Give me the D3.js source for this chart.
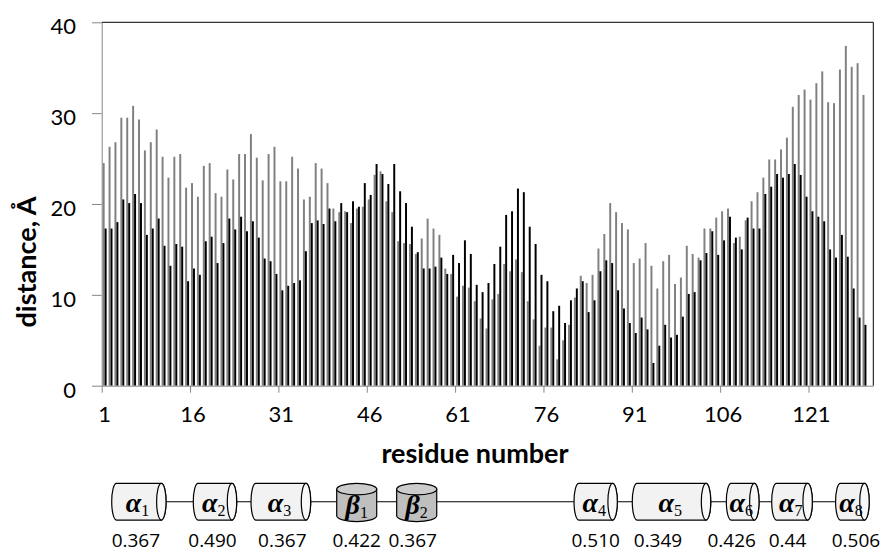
<!DOCTYPE html>
<html>
<head>
<meta charset="utf-8">
<script src="https://cdn.jsdelivr.net/npm/d3@7"></script>
<style>
  html, body { margin: 0; padding: 0; background: #fff; }
  svg { display: block; }
</style>
</head>
<body>
<svg id="chart" width="889" height="552"></svg>
<script>
// Residue slots along the sequence (the axis keeps one empty slot after residue 130)
const residues = d3.range(1, 132);
const tickResidues = [1, 16, 31, 46, 61, 76, 91, 106, 121];
const yTicks = [0, 10, 20, 30, 40];

// Distance per residue, Å (grey series)
const distGray = [
  24.5, 26.3, 26.8, 29.5, 29.5, 30.8, 29.3, 25.9, 26.8, 28.2,
  25.2, 22.9, 25.2, 25.5, 21.8, 22.3, 20.8, 24.2, 24.5, 21.2,
  20.8, 23.8, 22.7, 25.5, 25.5, 27.7, 25.1, 22.6, 25.5, 26.3,
  22.5, 22.5, 25.2, 23.9, 20.5, 20.8, 24.5, 23.9, 22.3, 19.5,
  19.1, 19.2, 17.9, 19.5, 19.7, 20.5, 23.2, 23.6, 20.3, 19.1,
  15.9, 15.7, 15.6, 14.5, 16.2, 18.4, 17.3, 16.6, 12.9, 12.3,
  9.8, 11.0, 10.8, 9.3, 7.4, 6.3, 9.5, 10.1, 13.4, 12.6,
  13.9, 12.5, 9.3, 7.3, 4.4, 6.4, 6.4, 2.9, 5.0, 6.7,
  9.7, 12.1, 11.3, 12.2, 15.1, 16.7, 20.1, 19.1, 17.9, 17.2,
  13.5, 14.0, 15.7, 13.2, 10.7, 13.7, 14.4, 11.2, 11.9, 15.4,
  14.5, 14.1, 17.3, 17.3, 18.5, 19.2, 19.5, 15.7, 16.4, 18.2,
  20.3, 21.3, 22.9, 24.9, 24.9, 26.0, 27.3, 30.7, 32.0, 32.6,
  31.5, 33.3, 34.6, 31.2, 31.1, 34.8, 37.4, 35.1, 35.5, 32.0
];

// Distance per residue, Å (black series)
const distBlack = [
  17.3, 17.3, 18.0, 20.5, 20.1, 21.1, 20.1, 16.6, 17.3, 18.4,
  15.4, 13.2, 15.6, 15.3, 11.5, 12.9, 12.2, 15.9, 16.4, 13.5,
  15.7, 18.4, 17.2, 18.6, 17.0, 18.1, 16.3, 14.0, 13.7, 12.3,
  10.5, 11.0, 11.3, 11.6, 14.8, 17.9, 18.2, 17.8, 19.5, 18.1,
  20.1, 19.1, 20.3, 19.7, 22.3, 21.0, 24.4, 23.3, 22.2, 24.4,
  21.4, 20.1, 17.5, 14.7, 12.9, 12.9, 13.1, 14.1, 12.3, 14.4,
  13.5, 16.0, 14.5, 11.1, 10.3, 11.3, 13.4, 15.3, 18.8, 19.2,
  21.7, 21.3, 17.5, 15.6, 12.2, 11.5, 8.2, 8.8, 6.9, 9.4,
  10.7, 11.5, 8.1, 9.4, 12.6, 13.8, 13.5, 10.5, 8.5, 6.9,
  5.8, 7.5, 6.2, 2.5, 4.4, 6.7, 5.3, 5.6, 7.6, 10.1,
  10.3, 13.8, 14.6, 17.0, 14.4, 16.0, 18.6, 16.3, 15.0, 18.5,
  17.3, 17.3, 21.1, 21.9, 23.3, 22.9, 23.3, 24.4, 23.2, 20.8,
  19.2, 18.6, 18.1, 15.0, 14.1, 16.6, 14.2, 10.7, 7.5, 6.7
];

// Secondary structure elements: kind, index, span in residue units, value
const ssKind  = ["α", "α", "α", "β", "β", "α", "α", "α", "α", "α"];
const ssIndex = [1, 2, 3, 1, 2, 4, 5, 6, 7, 8];
const ssStart = [2.7, 16.55, 26.35, 40.9, 51.08, 81.19, 91.08, 107.05, 114.75, 125.6];
const ssEnd   = [11.92, 23.92, 36.48, 47.69, 57.88, 88.54, 104.4, 112.6, 121.65, 131.3];
const ssValue = ["0.367", "0.490", "0.367", "0.422", "0.367", "0.510", "0.349", "0.426", "0.44", "0.506"];

// ---- layout ----
const plot = { left: 101.7, right: 873.3, top: 22.3, bottom: 385.7 };
const axisGrey = "#868686";
const valueLabelShift = [-3, -2.5, 1.5, 0, -4, 0, -13.5, -11, -4.5, 3.5];

const svg = d3.select("#chart");
svg.append("rect").attr("width", 889).attr("height", 552).attr("fill", "#fff");

const x = d3.scaleBand().domain(residues).range([plot.left, plot.right]).paddingInner(0).paddingOuter(0);
const sub = d3.scaleBand().domain(["gray", "black"]).range([0, x.bandwidth()]).paddingInner(0).paddingOuter(0.5);
const pos = d3.scaleLinear().domain([1, residues.length + 1]).range([plot.left, plot.right]);
const y = d3.scaleLinear().domain([0, 40]).range([plot.bottom, plot.top]);

// bars
const series = [
  { key: "gray", values: distGray, color: "#808080" },
  { key: "black", values: distBlack, color: "#000000" }
];
series.forEach(s => {
  svg.append("g")
    .selectAll("rect")
    .data(s.values.map((v, i) => ({ r: residues[i], v })))
    .join("rect")
    .attr("x", d => x(d.r) + sub(s.key))
    .attr("width", sub.bandwidth())
    .attr("y", d => y(d.v))
    .attr("height", d => y(0) - y(d.v))
    .attr("fill", s.color);
});

// frame: top and right edges
svg.append("path")
  .attr("d", `M${plot.left},${plot.top}H${plot.right}V${plot.bottom}`)
  .attr("fill", "none").attr("stroke", "#000").attr("stroke-width", 1);

// y axis
const yAxis = svg.append("g")
  .attr("transform", `translate(${plot.left},0)`)
  .call(d3.axisLeft(y).tickValues(yTicks).tickSize(9.7).tickSizeOuter(0).tickPadding(16));
yAxis.select(".domain").attr("stroke", axisGrey);
yAxis.selectAll(".tick line").attr("stroke", axisGrey);
yAxis.selectAll(".tick text")
  .attr("font-family", "Lato, sans-serif").attr("font-size", 22).attr("fill", "#000")
  .attr("dy", "0.52em");

// x axis: tick marks at the slot boundaries
const xTicks = svg.append("g")
  .attr("transform", `translate(0,${plot.bottom})`)
  .call(d3.axisBottom(pos).tickValues(tickResidues).tickSize(7).tickSizeOuter(0).tickFormat(""));
xTicks.select(".domain").attr("stroke", axisGrey);
xTicks.selectAll(".tick line").attr("stroke", axisGrey);

// x axis labels centred on their residue
const xLabels = svg.append("g")
  .attr("transform", `translate(0,${plot.bottom})`)
  .call(d3.axisBottom(x).tickValues(tickResidues).tickSize(0).tickPadding(20.4));
xLabels.select(".domain").remove();
xLabels.selectAll(".tick text")
  .attr("font-family", "Lato, sans-serif").attr("font-size", 22).attr("fill", "#000");

// axis titles
svg.append("text")
  .attr("x", 475).attr("y", 463)
  .attr("text-anchor", "middle")
  .attr("font-family", "Lato, sans-serif").attr("font-weight", 700).attr("font-size", 27)
  .text("residue number");

svg.append("text")
  .attr("transform", "translate(36,262) rotate(-90)")
  .attr("text-anchor", "middle")
  .attr("font-family", "Lato, sans-serif").attr("font-weight", 700).attr("font-size", 27)
  .text("distance, Å");

// ---- secondary structure diagram ----
const diagY = 501.7, cylH = 36.7, capRx = 4.7, betaRy = 5.8;
const cylTop = diagY - cylH / 2, cylBottom = diagY + cylH / 2;
const diag = svg.append("g");

diag.append("line")
  .attr("x1", pos(ssEnd[0])).attr("x2", pos(ssStart[ssStart.length - 1]))
  .attr("y1", diagY).attr("y2", diagY)
  .attr("stroke", "#000").attr("stroke-width", 1.1);

const elements = ssKind.map((k, i) => ({
  kind: k, idx: ssIndex[i], x1: pos(ssStart[i]), x2: pos(ssEnd[i]), value: ssValue[i], shift: valueLabelShift[i]
}));

elements.forEach(e => {
  const g = diag.append("g");
  let cx;
  if (e.kind === "α") {
    const a = e.x1 + capRx, b = e.x2 - capRx;
    g.append("path")
      .attr("d", `M${a},${cylTop}H${b}A${capRx},${cylH / 2} 0 0 1 ${b},${cylBottom}H${a}A${capRx},${cylH / 2} 0 0 1 ${a},${cylTop}Z`)
      .attr("fill", "#f2f2f2").attr("stroke", "#000").attr("stroke-width", 1.2);
    g.append("ellipse")
      .attr("cx", b).attr("cy", diagY).attr("rx", capRx).attr("ry", cylH / 2)
      .attr("fill", "#f8f8f8").attr("stroke", "#000").attr("stroke-width", 1.2);
    cx = (e.x1 + b) / 2 + 1;
  } else {
    const bTop = cylTop, bBot = cylBottom + 1.5;
    const w = e.x2 - e.x1;
    g.append("path")
      .attr("d", `M${e.x1},${bTop + betaRy}V${bBot - betaRy}A${w / 2},${betaRy} 0 0 0 ${e.x2},${bBot - betaRy}V${bTop + betaRy}Z`)
      .attr("fill", "#bfbfbf").attr("stroke", "#000").attr("stroke-width", 1.2);
    g.append("ellipse")
      .attr("cx", (e.x1 + e.x2) / 2).attr("cy", bTop + betaRy).attr("rx", w / 2).attr("ry", betaRy)
      .attr("fill", "#cccccc").attr("stroke", "#000").attr("stroke-width", 1.2);
    cx = (e.x1 + e.x2) / 2;
  }
  const t = g.append("text")
    .attr("x", cx).attr("y", e.kind === "α" ? 511.5 : 514)
    .attr("text-anchor", "middle")
    .attr("font-family", "'Liberation Serif', 'DejaVu Serif', serif");
  t.append("tspan").attr("font-weight", 700).attr("font-style", "italic").attr("font-size", 28).text(e.kind);
  t.append("tspan").attr("font-size", 16).attr("dy", 4).text(e.idx);

  diag.append("text")
    .attr("x", (e.x1 + e.x2) / 2 + e.shift).attr("y", 546.5)
    .attr("text-anchor", "middle")
    .attr("font-family", "'Open Sans', sans-serif").attr("font-size", 19).attr("fill", "#000")
    .text(e.value);
});
</script>
</body>
</html>
